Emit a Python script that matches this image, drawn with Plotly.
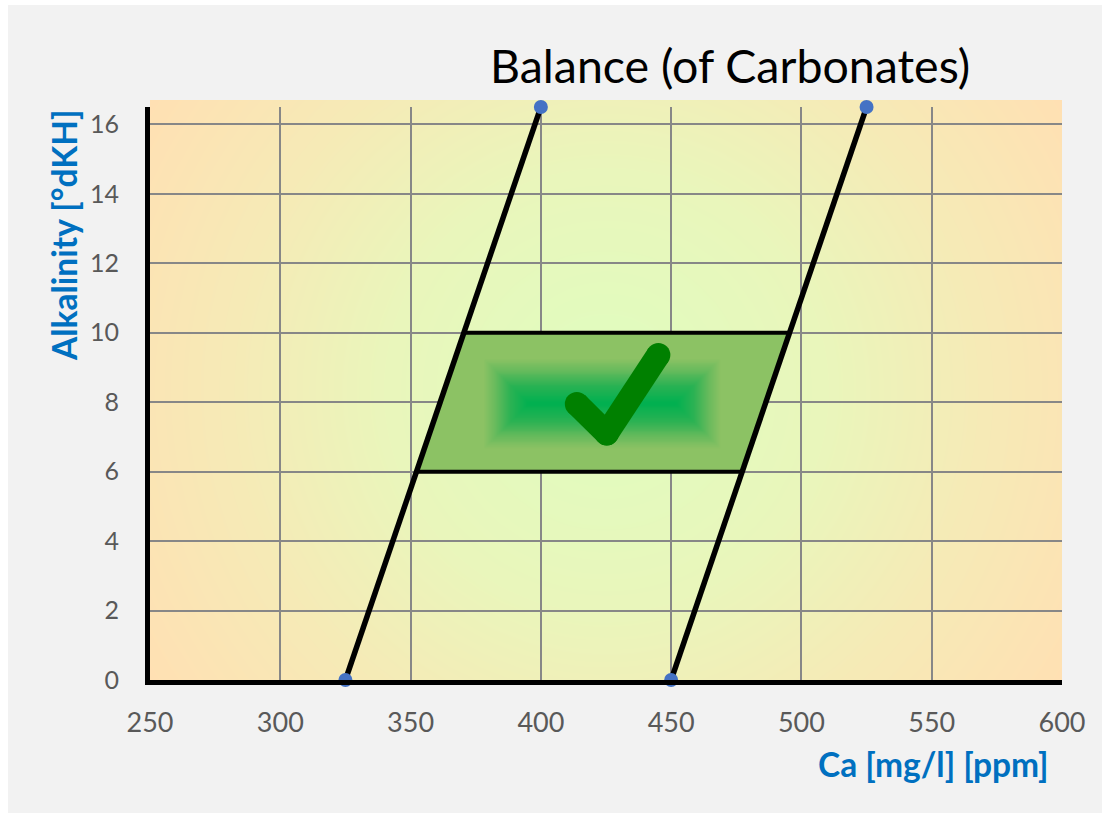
import numpy as np
import plotly.graph_objects as go

# ---------------- data ----------------
alk_ends = [0, 16.5]              # alkalinity at the two ends of each boundary line
ca_lower_line = [325, 400]        # Ca values of the left boundary line
ca_upper_line = [450, 525]        # Ca values of the right boundary line
band_alk = [6, 10]                # recommended alkalinity band
x_ticks = [250, 300, 350, 400, 450, 500, 550, 600]
y_ticks = [0, 2, 4, 6, 8, 10, 12, 14, 16]
title_text = "Balance (of Carbonates)"
x_title = "Ca [mg/l] [ppm]"
y_title = "Alkalinity [°dKH]"
check_ca = [413.8, 425.3, 445.1]   # check-mark symbol (decoration)
check_alk = [7.95, 7.10, 9.36]

X_RANGE = [250, 600]
Y_RANGE = [0, 16.5]

W, H = 1102, 813
ML, MR, MT, MB = 150, 1102 - 1062, 100, 813 - 680
PW, PH = W - ML - MR, H - MT - MB
PH_MAIN = 680 - 107  # main plot height in px
STRIP_L, STRIP_T = 8, 5  # white strips at left / top of the page


def px_x(page_x):
    return (page_x - ML) / PW


def px_y(page_y):
    return (H - MB - page_y) / PH


def ca_at(line, a):
    return float(np.interp(a, alk_ends, line))


band_x = [ca_at(ca_lower_line, band_alk[0]), ca_at(ca_upper_line, band_alk[0]),
          ca_at(ca_upper_line, band_alk[1]), ca_at(ca_lower_line, band_alk[1])]
band_y = [band_alk[0], band_alk[0], band_alk[1], band_alk[1]]

fig = go.Figure()

# ---------- background radial gradient (decoration) ----------
n = 90
gx = np.linspace(0, 1, n)
gy = np.linspace(0, 1, n)
GX, GY = np.meshgrid(gx, gy)
dx = (GX - 0.5) * PW
dy = (GY - 0.5) * PH
r = np.sqrt(dx ** 2 + dy ** 2) / np.sqrt((PW / 2) ** 2 + (PH / 2) ** 2)
fig.add_trace(go.Heatmap(
    x=gx, y=gy, z=r, zmin=0, zmax=1, zsmooth="best", showscale=False,
    colorscale=[[0, "#dffdbf"], [0.4, "#e9f6bb"], [0.7, "#f6eab6"], [1, "#ffe0b3"]],
    hoverinfo="skip", xaxis="x", yaxis="y"))

# ---------- main chart ----------
fig.add_trace(go.Scatter(
    x=band_x + [band_x[0]], y=band_y + [band_y[0]], fill="toself",
    fillcolor="#8cc264", mode="none", hoverinfo="skip", showlegend=False,
    xaxis="x2", yaxis="y2"))

for yy in band_alk:
    fig.add_trace(go.Scatter(
        x=[ca_at(ca_lower_line, yy), ca_at(ca_upper_line, yy)], y=[yy, yy],
        mode="lines", line=dict(color="black", width=4), showlegend=False,
        hoverinfo="skip", xaxis="x2", yaxis="y2"))

for line in (ca_lower_line, ca_upper_line):
    fig.add_trace(go.Scatter(
        x=line, y=alk_ends, mode="lines+markers",
        line=dict(color="black", width=5.5),
        marker=dict(color="#4472c4", size=14),
        showlegend=False, xaxis="x2", yaxis="y2", cliponaxis=False))

# ---------- inner gradient + check mark (decoration, overlay) ----------
gx0, gx1 = 377.8, 468.7
gy0, gy1 = 6.68, 9.27
ppx = PW / (X_RANGE[1] - X_RANGE[0])
ppy = PH_MAIN / (Y_RANGE[1] - Y_RANGE[0])
ix = np.linspace(gx0, gx1, 120)
iy = np.linspace(gy0, gy1, 50)
IX, IY = np.meshgrid(ix, iy)
dmin = np.minimum.reduce([(IX - gx0) * ppx, (gx1 - IX) * ppx,
                          (IY - gy0) * ppy, (gy1 - IY) * ppy])
half_h = (gy1 - gy0) * ppy / 2
t = 1 - dmin / half_h
fig.add_trace(go.Heatmap(
    x=ix, y=iy, z=t, zmin=0, zmax=1, zsmooth="best", showscale=False,
    colorscale=[[0, "#00b050"], [0.4, "#2bb253"], [0.75, "#6abb5d"], [1, "#8cc264"]],
    hoverinfo="skip", xaxis="x3", yaxis="y3"))

fig.add_trace(go.Scatter(
    x=[check_ca[0], check_ca[1], None, check_ca[1], check_ca[2]],
    y=[check_alk[0], check_alk[1], None, check_alk[1], check_alk[2]],
    mode="lines+markers", connectgaps=False,
    line=dict(color="#008000", width=24),
    marker=dict(color="#008000", size=24),
    showlegend=False, hoverinfo="skip", xaxis="x3", yaxis="y3"))

main_dom_y = [0, PH_MAIN / PH]

fig.update_layout(
    width=W, height=H,
    margin=dict(l=ML, r=MR, t=MT, b=MB),
    paper_bgcolor="#f2f2f2",
    plot_bgcolor="rgba(0,0,0,0)",
    showlegend=False,
    font=dict(family="Lato, sans-serif"),
    xaxis=dict(domain=[0, 1], range=[0, 1], visible=False, fixedrange=True),
    yaxis=dict(domain=[0, 1], range=[0, 1], visible=False, fixedrange=True),
    xaxis2=dict(domain=[0, 1], anchor="y2", range=X_RANGE, tickvals=x_ticks,
                showgrid=True, gridcolor="#878787", gridwidth=1.6,
                showline=True, linecolor="black", linewidth=5,
                zeroline=False, ticks="", ticklabelstandoff=15,
                tickfont=dict(family="Lato", size=27, color="#595959")),
    yaxis2=dict(domain=main_dom_y, anchor="x2", range=Y_RANGE, tickvals=y_ticks,
                showgrid=True, gridcolor="#878787", gridwidth=1.6,
                showline=True, linecolor="black", linewidth=5,
                zeroline=False, ticks="", ticklabelstandoff=21,
                tickfont=dict(family="Lato", size=25, color="#595959")),
    xaxis3=dict(overlaying="x2", range=X_RANGE, visible=False),
    yaxis3=dict(overlaying="y2", range=Y_RANGE, visible=False),
)

# white page strips on the left and top
fig.add_shape(type="rect", xref="paper", yref="paper",
              x0=px_x(0), x1=px_x(STRIP_L), y0=px_y(H), y1=px_y(0),
              fillcolor="white", line=dict(width=0), layer="below")
fig.add_shape(type="rect", xref="paper", yref="paper",
              x0=px_x(0), x1=px_x(W), y0=px_y(STRIP_T), y1=px_y(0),
              fillcolor="white", line=dict(width=0), layer="below")

fig.add_annotation(text=title_text, xref="paper", yref="paper",
                   x=px_x(730), y=px_y(65),
                   xanchor="center", yanchor="middle", showarrow=False,
                   font=dict(family="Lato", size=46.5, color="black"))
fig.add_annotation(text="<b>" + x_title + "</b>", xref="paper", yref="paper",
                   x=px_x(1051), y=px_y(764),
                   xanchor="right", yanchor="middle", showarrow=False,
                   font=dict(family="Lato", size=33.5, color="#0070c0"))
fig.add_annotation(text="<b>" + y_title + "</b>", xref="paper", yref="paper",
                   x=px_x(64), y=px_y(235), textangle=-90,
                   xanchor="center", yanchor="middle", showarrow=False,
                   font=dict(family="Lato", size=33.5, color="#0070c0"))

fig.write_html(
    "out.html",
    config={"displayModeBar": False},
    post_script=("document.body.style.margin='0';"
                 "document.body.style.overflow='hidden';"
                 "document.documentElement.style.overflow='hidden';"),
)
